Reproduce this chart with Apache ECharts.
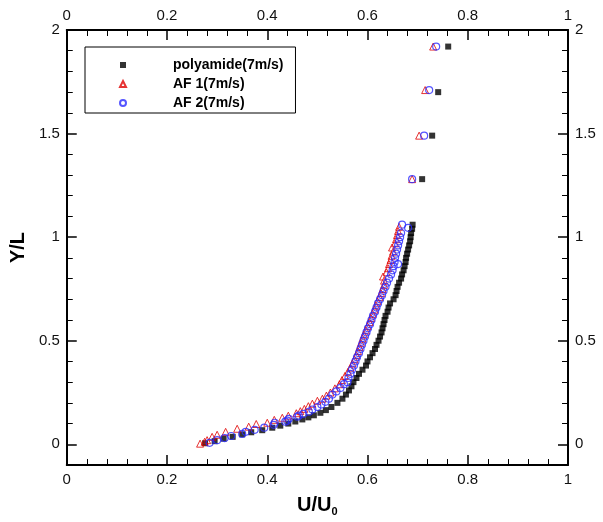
<!DOCTYPE html>
<html>
<head>
<meta charset="utf-8">
<script src="https://cdn.jsdelivr.net/npm/echarts@6/dist/echarts.min.js"></script>
<style>html,body{margin:0;padding:0;background:#fff}#c{width:603px;height:522px}</style>
</head>
<body>
<div id="c"></div>
<script>
// ---- data ([U/U0, Y/L]) ----
const polyamide = [
  [0.276,0.005],[0.295,0.015],[0.313,0.027],[0.331,0.036],[0.350,0.048],[0.368,0.058],[0.390,0.068],
  [0.410,0.080],[0.426,0.090],[0.442,0.100],[0.456,0.110],[0.470,0.120],[0.482,0.130],[0.493,0.140],
  [0.506,0.152],[0.517,0.165],[0.528,0.180],[0.540,0.200],[0.550,0.220],[0.557,0.240],[0.563,0.260],
  [0.568,0.280],[0.572,0.300],[0.578,0.320],[0.583,0.340],[0.590,0.360],[0.597,0.380],[0.600,0.400],
  [0.605,0.420],[0.610,0.440],[0.615,0.460],[0.618,0.480],[0.622,0.500],[0.625,0.520],[0.628,0.540],
  [0.630,0.560],[0.632,0.580],[0.634,0.600],[0.636,0.620],[0.640,0.640],[0.642,0.660],[0.645,0.680],
  [0.652,0.700],[0.656,0.720],[0.658,0.740],[0.660,0.760],[0.663,0.780],[0.667,0.800],[0.669,0.820],
  [0.672,0.840],[0.674,0.860],[0.676,0.880],[0.677,0.900],[0.679,0.920],[0.681,0.940],[0.683,0.960],
  [0.685,0.980],[0.686,1.000],[0.687,1.020],[0.689,1.040],[0.690,1.060],
  [0.709,1.280],[0.729,1.490],[0.741,1.700],[0.761,1.920]
];
const af1 = [
  [0.266,0.003],[0.275,0.012],[0.280,0.020],[0.290,0.036],[0.300,0.046],[0.317,0.060],[0.340,0.075],
  [0.363,0.085],[0.378,0.098],[0.400,0.104],[0.414,0.118],[0.430,0.128],[0.442,0.138],[0.458,0.150],
  [0.466,0.160],[0.474,0.171],[0.482,0.184],[0.490,0.196],[0.500,0.210],[0.510,0.220],[0.518,0.235],
  [0.526,0.250],[0.535,0.270],[0.544,0.290],[0.549,0.310],[0.555,0.330],[0.561,0.350],[0.566,0.370],
  [0.570,0.390],[0.574,0.410],[0.578,0.430],[0.581,0.450],[0.584,0.470],[0.587,0.490],[0.590,0.510],
  [0.593,0.530],[0.597,0.550],[0.600,0.570],[0.604,0.590],[0.607,0.610],[0.610,0.630],[0.614,0.650],
  [0.617,0.670],[0.620,0.690],[0.624,0.710],[0.627,0.730],[0.630,0.750],[0.633,0.770],[0.633,0.790],
  [0.631,0.810],[0.638,0.830],[0.641,0.850],[0.643,0.870],[0.646,0.890],[0.648,0.910],[0.651,0.930],
  [0.649,0.950],[0.655,0.970],[0.657,0.990],[0.659,1.010],[0.661,1.030],[0.663,1.050],
  [0.689,1.280],[0.703,1.490],[0.715,1.710],[0.731,1.920]
];
const af2 = [
  [0.285,0.007],[0.300,0.020],[0.315,0.030],[0.328,0.040],[0.350,0.050],[0.357,0.060],[0.375,0.070],
  [0.394,0.080],[0.413,0.094],[0.415,0.104],[0.436,0.109],[0.440,0.114],[0.443,0.123],[0.460,0.133],
  [0.463,0.138],[0.472,0.147],[0.483,0.157],[0.490,0.168],[0.500,0.180],[0.508,0.192],[0.516,0.205],
  [0.523,0.220],[0.530,0.240],[0.538,0.255],[0.546,0.272],[0.553,0.290],[0.560,0.300],[0.562,0.320],
  [0.566,0.340],[0.569,0.360],[0.573,0.380],[0.576,0.400],[0.579,0.420],[0.583,0.440],[0.586,0.460],
  [0.589,0.480],[0.592,0.500],[0.595,0.520],[0.598,0.540],[0.601,0.560],[0.605,0.580],[0.608,0.600],
  [0.611,0.620],[0.615,0.640],[0.618,0.660],[0.621,0.680],[0.625,0.700],[0.629,0.720],[0.632,0.740],
  [0.636,0.760],[0.639,0.780],[0.643,0.800],[0.647,0.820],[0.650,0.840],[0.652,0.860],[0.661,0.870],
  [0.654,0.880],[0.655,0.900],[0.657,0.920],[0.659,0.940],[0.661,0.960],[0.663,0.980],[0.665,1.000],
  [0.667,1.020],[0.681,1.045],[0.669,1.060],
  [0.689,1.280],[0.713,1.490],[0.723,1.710],[0.737,1.920]
];
const seriesNames = ['polyamide(7m/s)', 'AF 1(7m/s)', 'AF 2(7m/s)'];
const yMajorTicks = [0, 0.5, 1, 1.5, 2];
const yMinorTicks = [-0.1,0.1,0.2,0.3,0.4,0.6,0.7,0.8,0.9,1.1,1.2,1.3,1.4,1.6,1.7,1.8,1.9];

const FONT = 'Liberation Sans, Arial, sans-serif';
const chart = echarts.init(document.getElementById('c'), null, {renderer: 'canvas'});

function xAx(pos, showName) {
  return {
    type: 'value', position: pos, min: 0, max: 1, interval: 0.2,
    name: showName ? '{a|U/U}{b|0}' : '', nameLocation: 'middle', nameGap: 29,
    nameTextStyle: {rich: {
      a: {fontFamily: FONT, fontSize: 20, fontWeight: 'bold', color: '#000'},
      b: {fontFamily: FONT, fontSize: 11, fontWeight: 'bold', color: '#000', padding: [12, 0, 0, 0]}
    }},
    axisLine: {show: true, onZero: false, lineStyle: {color: '#000', width: 2}},
    axisTick: {show: true, inside: true, length: 10, lineStyle: {color: '#000', width: 1.5}},
    minorTick: {show: true, splitNumber: 5, length: 6, lineStyle: {color: '#000', width: 1}},
    axisLabel: {show: true, fontFamily: FONT, fontSize: 15, color: '#111', margin: 7,
      formatter: v => String(+v.toFixed(1))},
    splitLine: {show: false}
  };
}
function yAx(pos, major, showName) {
  return {
    type: 'value', position: pos, min: -0.1, max: 2, interval: 0.1,
    name: showName ? 'Y/L' : '', nameLocation: 'middle', nameGap: 38,
    nameTextStyle: {fontFamily: FONT, fontSize: 20, fontWeight: 'bold', color: '#000'},
    axisLine: {show: major, onZero: false, lineStyle: {color: '#000', width: 2}},
    axisTick: {show: true, inside: true, length: major ? 10 : 6,
      customValues: major ? yMajorTicks : yMinorTicks,
      lineStyle: {color: '#000', width: major ? 1.5 : 1}},
    axisLabel: {show: major, fontFamily: FONT, fontSize: 15, color: '#111', margin: 7,
      customValues: yMajorTicks, formatter: v => String(+(+v).toFixed(1))},
    splitLine: {show: false}
  };
}

chart.setOption({
  animation: false,
  backgroundColor: '#fff',
  grid: {left: 66, right: 35, top: 30, bottom: 57, containLabel: false},
  legend: {
    orient: 'vertical', left: 85, top: 47,
    data: seriesNames,
    itemWidth: 6, itemHeight: 6, itemGap: 5,
    padding: [11, 12, 3, 34],
    borderColor: '#000', borderWidth: 1,
    textStyle: {fontFamily: FONT, fontSize: 14, fontWeight: 'bold', color: '#000', padding: [0, 0, 0, 42]}
  },
  xAxis: [xAx('bottom', true), xAx('top', false)],
  yAxis: [yAx('left', true, true), yAx('left', false, false), yAx('right', true, false), yAx('right', false, false)],
  series: [
    {name: seriesNames[0], type: 'scatter', data: polyamide, symbol: 'rect', symbolSize: 6,
      itemStyle: {color: '#000'}},
    {name: seriesNames[1], type: 'scatter', data: af1, symbol: 'triangle', symbolSize: 7,
      itemStyle: {color: 'rgba(0,0,0,0)', borderColor: '#e00000', borderWidth: 1}},
    {name: seriesNames[2], type: 'scatter', data: af2, symbol: 'circle', symbolSize: 7,
      itemStyle: {color: 'rgba(0,0,0,0)', borderColor: '#2a2aff', borderWidth: 1.2}}
  ]
});
</script>
</body>
</html>
